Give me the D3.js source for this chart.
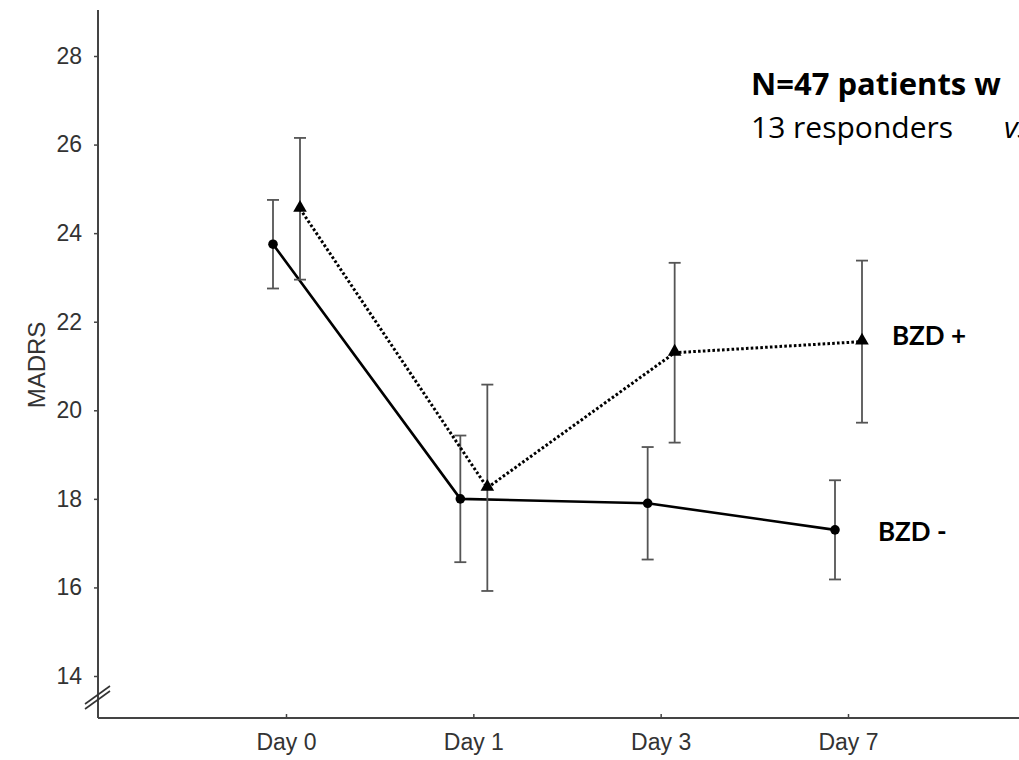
<!DOCTYPE html>
<meta charset="utf-8" />
<script src="https://d3js.org/d3.v7.min.js"></script>
<style>
  body { margin: 0; background: #fff; }
</style>
<svg width="1019" height="760" id="chart"></svg>
<script>
  // data
  var days = ["Day 0", "Day 1", "Day 3", "Day 7"];
  var yTicks = [14, 16, 18, 20, 22, 24, 26, 28];
  var bzdMinusMean = [23.75, 18.0, 17.9, 17.3];
  var bzdMinusErr = [1.0, 1.43, 1.27, 1.12];
  var bzdPlusMean = [24.55, 18.25, 21.3, 21.55];
  var bzdPlusErr = [1.6, 2.33, 2.03, 1.83];

  var svg = d3.select("svg");

  // frame of the plot
  var axisX = 98, axisY = 718, axisTop = 10, axisRight = 1019;

  var x = d3.scalePoint().domain(days).range([286, 848]);
  var y = d3.scaleLinear().domain([14, 28]).range([676, 56]);

  var series = [
    { name: "BZD -", mean: bzdMinusMean, err: bzdMinusErr, dx: -13, dotted: false },
    { name: "BZD +", mean: bzdPlusMean, err: bzdPlusErr, dx: 14, dotted: true }
  ];

  var axisFont = "Liberation Sans, Arial, sans-serif";

  // y axis
  var yAxis = svg.append("g")
    .attr("transform", "translate(" + axisX + ",0)")
    .call(d3.axisLeft(y).tickValues(yTicks).tickSize(4).tickPadding(12));
  yAxis.select(".domain").remove();
  yAxis.selectAll("line").attr("stroke", "#444").attr("stroke-width", 1.5);
  yAxis.selectAll("text")
    .style("font-family", axisFont)
    .style("font-size", "23px")
    .attr("fill", "#333");
  svg.append("line")
    .attr("x1", axisX).attr("x2", axisX)
    .attr("y1", axisTop).attr("y2", axisY)
    .attr("stroke", "#444").attr("stroke-width", 2);

  // x axis
  var xAxis = svg.append("g")
    .attr("transform", "translate(0," + axisY + ")")
    .call(d3.axisBottom(x).tickSizeInner(-4).tickSizeOuter(0).tickPadding(16));
  xAxis.select(".domain").remove();
  xAxis.selectAll("line").attr("stroke", "#444").attr("stroke-width", 1.5);
  xAxis.selectAll("text")
    .style("font-family", axisFont)
    .style("font-size", "23px")
    .attr("fill", "#333");
  svg.append("line")
    .attr("x1", axisX).attr("x2", axisRight)
    .attr("y1", axisY).attr("y2", axisY)
    .attr("stroke", "#444").attr("stroke-width", 2);

  // axis break marks
  [0, 5].forEach(function (o) {
    svg.append("line")
      .attr("x1", 85).attr("y1", 704 + o)
      .attr("x2", 110).attr("y2", 686 + o)
      .attr("stroke", "#333").attr("stroke-width", 1.6);
  });

  // y label
  svg.append("text")
    .attr("transform", "translate(45,365)rotate(-90)")
    .attr("text-anchor", "middle")
    .style("font-family", axisFont)
    .style("font-size", "24px")
    .attr("fill", "#333")
    .text("MADRS");

  var line = d3.line();

  series.forEach(function (s) {
    var pts = s.mean.map(function (m, i) {
      return { x: x(days[i]) + s.dx, m: m, e: s.err[i] };
    });

    // error bars
    var eb = svg.append("g").attr("stroke", "#555").attr("stroke-width", 1.8);
    pts.forEach(function (p) {
      eb.append("line").attr("x1", p.x).attr("x2", p.x)
        .attr("y1", y(p.m + p.e)).attr("y2", y(p.m - p.e));
      eb.append("line").attr("x1", p.x - 6).attr("x2", p.x + 6)
        .attr("y1", y(p.m + p.e)).attr("y2", y(p.m + p.e));
      eb.append("line").attr("x1", p.x - 6).attr("x2", p.x + 6)
        .attr("y1", y(p.m - p.e)).attr("y2", y(p.m - p.e));
    });

    // connecting line
    svg.append("path")
      .attr("d", line(pts.map(function (p) { return [p.x, y(p.m)]; })))
      .attr("fill", "none")
      .attr("stroke", "#000")
      .attr("stroke-width", s.dotted ? 3 : 2.6)
      .attr("stroke-dasharray", s.dotted ? "2.6,2.2" : null);

    // markers
    if (s.dotted) {
      svg.selectAll(null).data(pts).enter().append("path")
        .attr("d", d3.symbol().type(d3.symbolTriangle).size(80))
        .attr("transform", function (p) { return "translate(" + p.x + "," + (y(p.m) - 1) + ")"; })
        .attr("fill", "#000");
    } else {
      svg.selectAll(null).data(pts).enter().append("circle")
        .attr("cx", function (p) { return p.x; })
        .attr("cy", function (p) { return y(p.m); })
        .attr("r", 4.8)
        .attr("fill", "#000");
    }
  });

  // series labels
  svg.append("text").attr("x", 892).attr("y", 345)
    .style("font-family", "Lato, sans-serif").style("font-weight", "bold")
    .style("font-size", "26px").text("BZD +");
  svg.append("text").attr("x", 878).attr("y", 541)
    .style("font-family", "Lato, sans-serif").style("font-weight", "bold")
    .style("font-size", "26px").text("BZD -");

  // header text (cut at the right edge in the source)
  svg.append("text").attr("x", 751).attr("y", 95)
    .style("font-family", "Open Sans, sans-serif").style("font-weight", "bold")
    .style("font-size", "31px").text("N=47 patients w");
  var sub = svg.append("text").attr("x", 751).attr("y", 138)
    .style("font-family", "Open Sans, sans-serif")
    .style("font-size", "30px");
  sub.append("tspan").text("13 responders");
  sub.append("tspan").attr("x", 1004).style("font-style", "italic").text("vs");
</script>
